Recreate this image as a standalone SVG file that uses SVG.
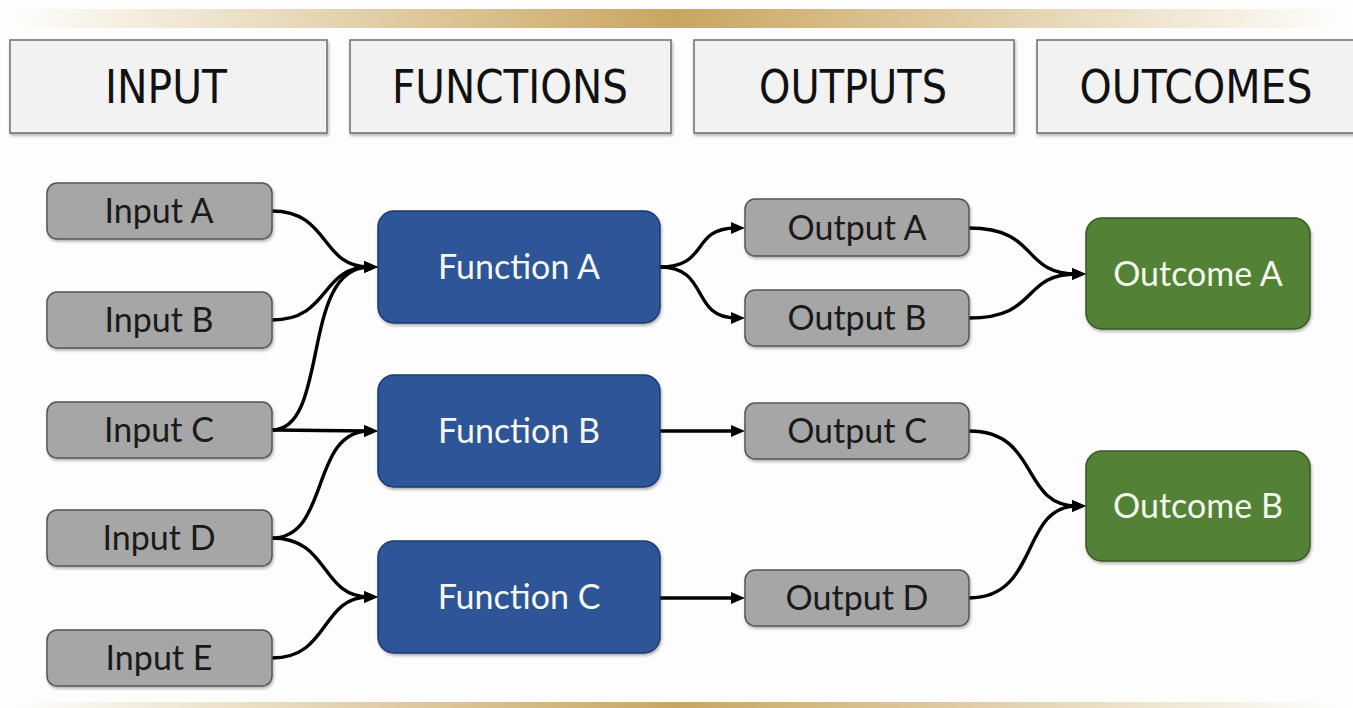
<svg xmlns="http://www.w3.org/2000/svg" width="1353" height="708" viewBox="0 0 1353 708">
<defs>
<linearGradient id="gold" x1="0" y1="0" x2="1" y2="0">
<stop offset="0" stop-color="#ffffff"/>
<stop offset="0.5" stop-color="#c9a65f"/>
<stop offset="1" stop-color="#ffffff"/>
</linearGradient>
<filter id="sh" x="-10%" y="-10%" width="120%" height="130%">
<feDropShadow dx="1" dy="2" stdDeviation="1.5" flood-color="#000" flood-opacity="0.3"/>
</filter>
<marker id="arr" markerUnits="userSpaceOnUse" viewBox="0 0 14 12" refX="5" refY="6" markerWidth="14" markerHeight="12" orient="auto">
<path d="M0,0 L14,6 L0,12 z" fill="#000"/>
</marker>
<style>
.hdr{fill:#f2f2f2;stroke:#6e6e6e;stroke-width:1.5}
.htx{font-family:"DejaVu Sans",sans-serif;font-size:46px;fill:#111;text-anchor:middle}
.gray{fill:#a6a6a6;stroke:#555;stroke-width:1.5}
.blue{fill:#2e5597;stroke:#1d3a6b;stroke-width:1.5}
.green{fill:#538135;stroke:#375a22;stroke-width:1.5}
.t{font-family:Lato,"DejaVu Sans",sans-serif;font-size:34px;text-anchor:middle}
.dk{fill:#1a1a1a}
.wt{fill:#f4f8ee}
.c{fill:none;stroke:#000;stroke-width:3.4;marker-end:url(#arr)}
</style>
</defs>
<rect width="1353" height="708" fill="#fdfdfd"/>
<rect x="0" y="9" width="1353" height="19" fill="url(#gold)"/>
<rect x="0" y="702" width="1353" height="6" fill="url(#gold)"/>

<g id="header-input"><rect class="hdr" x="10" y="40" width="317" height="93" filter="url(#sh)"/><text class="htx" x="166" y="103" textLength="122" lengthAdjust="spacingAndGlyphs">INPUT</text></g>
<g id="header-functions"><rect class="hdr" x="350" y="40" width="321" height="93" filter="url(#sh)"/><text class="htx" x="510" y="103" textLength="236" lengthAdjust="spacingAndGlyphs">FUNCTIONS</text></g>
<g id="header-outputs"><rect class="hdr" x="694" y="40" width="320" height="93" filter="url(#sh)"/><text class="htx" x="853" y="103" textLength="188" lengthAdjust="spacingAndGlyphs">OUTPUTS</text></g>
<g id="header-outcomes"><rect class="hdr" x="1037" y="40" width="320" height="93" filter="url(#sh)"/><text class="htx" x="1196" y="103" textLength="233" lengthAdjust="spacingAndGlyphs">OUTCOMES</text></g>

<g id="connectors">
<path class="c" d="M272,211 C330,211 320,267 369,267"/>
<path class="c" d="M272,320 C330,320 320,267 369,267"/>
<path class="c" d="M272,430 C330,430 300,267 369,267"/>
<path class="c" d="M272,430 L369,431"/>
<path class="c" d="M272,538 C330,538 310,431 369,431"/>
<path class="c" d="M272,538 C330,538 320,597 369,597"/>
<path class="c" d="M272,658 C330,658 320,597 369,597"/>
<path class="c" d="M660,267 C710,267 690,228 736,228"/>
<path class="c" d="M660,267 C710,267 690,318 736,318"/>
<path class="c" d="M660,431 L736,431"/>
<path class="c" d="M660,598 L736,598"/>
<path class="c" d="M969,228 C1040,228 1020,274 1077,274"/>
<path class="c" d="M969,318 C1040,318 1020,274 1077,274"/>
<path class="c" d="M969,431 C1040,431 1020,506 1077,506"/>
<path class="c" d="M969,598 C1040,598 1020,506 1077,506"/>
</g>

<g id="input-a"><rect class="gray" x="47" y="183" width="225" height="56" rx="10" filter="url(#sh)"/><text class="t dk" x="159" y="223">Input A</text></g>
<g id="input-b"><rect class="gray" x="47" y="292" width="225" height="56" rx="10" filter="url(#sh)"/><text class="t dk" x="159" y="332">Input B</text></g>
<g id="input-c"><rect class="gray" x="47" y="402" width="225" height="56" rx="10" filter="url(#sh)"/><text class="t dk" x="159" y="442">Input C</text></g>
<g id="input-d"><rect class="gray" x="47" y="510" width="225" height="56" rx="10" filter="url(#sh)"/><text class="t dk" x="159" y="550">Input D</text></g>
<g id="input-e"><rect class="gray" x="47" y="630" width="225" height="56" rx="10" filter="url(#sh)"/><text class="t dk" x="159" y="670">Input E</text></g>

<g id="function-a"><rect class="blue" x="378" y="211" width="282" height="112" rx="16" filter="url(#sh)"/><text class="t wt" x="519" y="279">Function A</text></g>
<g id="function-b"><rect class="blue" x="378" y="375" width="282" height="112" rx="16" filter="url(#sh)"/><text class="t wt" x="519" y="443">Function B</text></g>
<g id="function-c"><rect class="blue" x="378" y="541" width="282" height="112" rx="16" filter="url(#sh)"/><text class="t wt" x="519" y="609">Function C</text></g>

<g id="output-a"><rect class="gray" x="745" y="199" width="224" height="57" rx="10" filter="url(#sh)"/><text class="t dk" x="857" y="240">Output A</text></g>
<g id="output-b"><rect class="gray" x="745" y="290" width="224" height="56" rx="10" filter="url(#sh)"/><text class="t dk" x="857" y="330">Output B</text></g>
<g id="output-c"><rect class="gray" x="745" y="403" width="224" height="56" rx="10" filter="url(#sh)"/><text class="t dk" x="857" y="443">Output C</text></g>
<g id="output-d"><rect class="gray" x="745" y="570" width="224" height="56" rx="10" filter="url(#sh)"/><text class="t dk" x="857" y="610">Output D</text></g>

<g id="outcome-a"><rect class="green" x="1086" y="218" width="224" height="111" rx="16" filter="url(#sh)"/><text class="t wt" x="1198" y="286">Outcome A</text></g>
<g id="outcome-b"><rect class="green" x="1086" y="451" width="224" height="110" rx="16" filter="url(#sh)"/><text class="t wt" x="1198" y="518">Outcome B</text></g>
</svg>
